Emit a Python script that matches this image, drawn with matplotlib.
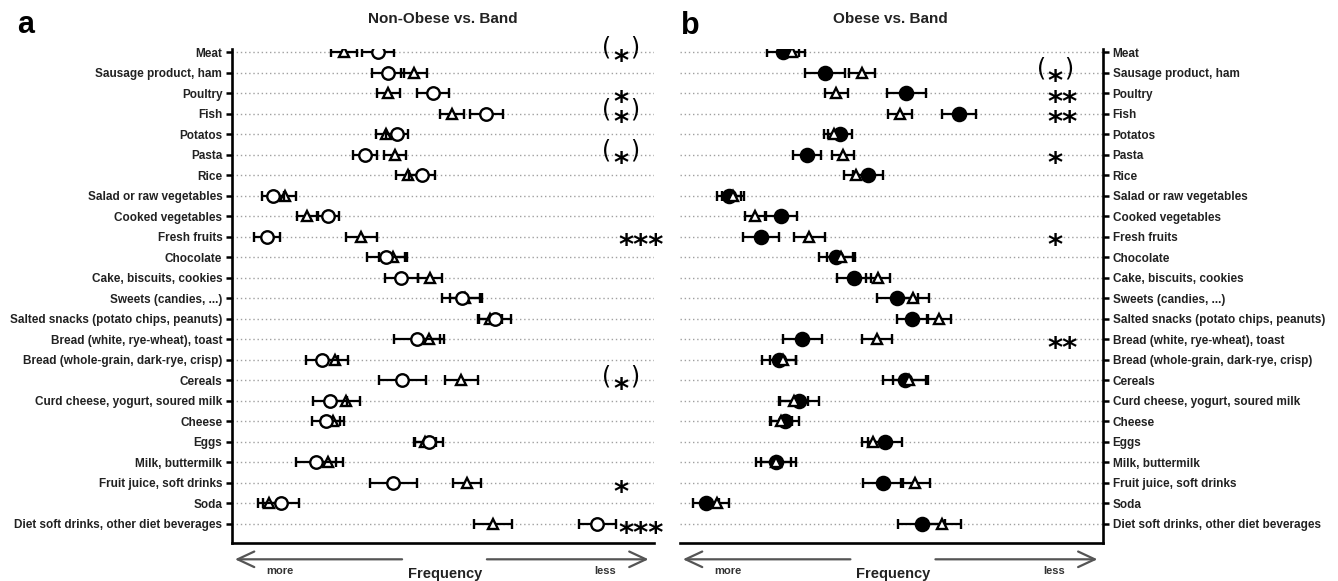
import matplotlib
matplotlib.use('Agg')
import matplotlib.pyplot as plt
import numpy as np

# food items, top to bottom
foods = ['Meat', 'Sausage product, ham', 'Poultry', 'Fish', 'Potatos', 'Pasta', 'Rice',
         'Salad or raw vegetables', 'Cooked vegetables', 'Fresh fruits', 'Chocolate',
         'Cake, biscuits, cookies', 'Sweets (candies, ...)',
         'Salted snacks (potato chips, peanuts)', 'Bread (white, rye-wheat), toast',
         'Bread (whole-grain, dark-rye, crisp)', 'Cereals', 'Curd cheese, yogurt, soured milk',
         'Cheese', 'Eggs', 'Milk, buttermilk', 'Fruit juice, soft drinks', 'Soda',
         'Diet soft drinks, other diet beverages']

# frequency scores (arbitrary scale, 0 = more ... 4.22 = less)
band = [1.12, 1.82, 1.56, 2.20, 1.54, 1.63, 1.76, 0.53, 0.75, 1.29, 1.61, 1.98, 2.33,
        2.58, 1.97, 1.03, 2.29, 1.14, 1.01, 1.93, 0.96, 2.35, 0.37, 2.61]
band_err = [0.13, 0.13, 0.115, 0.12, 0.10, 0.11, 0.12, 0.11, 0.105, 0.155, 0.14, 0.12, 0.15,
            0.12, 0.15, 0.13, 0.165, 0.14, 0.11, 0.11, 0.15, 0.14, 0.115, 0.19]

non_obese = [1.46, 1.56, 2.01, 2.54, 1.65, 1.33, 1.90, 0.41, 0.96, 0.35, 1.54, 1.69, 2.30,
             2.63, 1.85, 0.90, 1.70, 0.98, 0.94, 1.97, 0.84, 1.61, 0.49, 3.65]
non_obese_err = [0.16, 0.16, 0.16, 0.165, 0.11, 0.12, 0.13, 0.11, 0.11, 0.13, 0.19, 0.165, 0.20,
                 0.16, 0.23, 0.16, 0.235, 0.17, 0.14, 0.14, 0.20, 0.235, 0.18, 0.185]

obese = [1.03, 1.45, 2.26, 2.78, 1.60, 1.27, 1.88, 0.49, 1.01, 0.81, 1.56, 1.74, 2.17,
         2.32, 1.22, 0.99, 2.25, 1.19, 1.05, 2.05, 0.96, 2.03, 0.26, 2.41]
obese_err = [0.16, 0.20, 0.19, 0.17, 0.12, 0.14, 0.15, 0.12, 0.16, 0.18, 0.17, 0.17, 0.20,
             0.155, 0.195, 0.17, 0.22, 0.20, 0.14, 0.17, 0.20, 0.20, 0.13, 0.23]

sig_a = ['(*)', '', '*', '(*)', '', '(*)', '', '', '', '***', '', '', '', '', '', '', '(*)',
         '', '', '', '', '*', '', '***']
sig_b = ['', '(*)', '**', '**', '', '*', '', '', '', '*', '', '', '', '', '**', '', '', '',
         '', '', '', '', '', '']

plt.rcParams['font.family'] = ['Liberation Sans', 'DejaVu Sans']

fig = plt.figure(figsize=(13.38, 5.81), dpi=100)
ax_a = fig.add_axes([0.1734, 0.0654, 0.3154, 0.8503])
ax_b = fig.add_axes([0.5082, 0.0654, 0.3161, 0.8503])

y = np.arange(len(foods))
xmax = 4.22


def setup(ax, side):
    ax.set_xlim(0, xmax)
    ax.set_ylim(23.93, -0.15)
    ax.hlines(y, 0, xmax, colors='#a0a0a0', linestyles=(0, (1, 2)), lw=1.0, zorder=0)
    for s in ['top', 'left', 'right', 'bottom']:
        ax.spines[s].set_visible(False)
    ax.spines['bottom'].set_visible(True)
    ax.spines[side].set_visible(True)
    ax.spines['bottom'].set_linewidth(1.9)
    ax.spines[side].set_linewidth(1.9)
    ax.set_xticks([])
    ax.set_yticks(y)
    ax.set_yticklabels(foods, fontsize=8.5, fontweight='bold', color='#222222')
    if side == 'right':
        ax.yaxis.tick_right()
    ax.tick_params(axis='y', length=4, width=1.8, pad=3)
    # frequency arrows below the axis
    arrow = dict(arrowstyle='->,head_length=0.6,head_width=0.28', color='#555555',
                 lw=1.6, mutation_scale=20, shrinkA=0, shrinkB=0)
    ax.annotate('', xy=(0.007, -0.033), xytext=(0.403, -0.033),
                xycoords='axes fraction', arrowprops=arrow, annotation_clip=False)
    ax.annotate('', xy=(0.987, -0.033), xytext=(0.604, -0.033),
                xycoords='axes fraction', arrowprops=arrow, annotation_clip=False)
    ax.text(0.114, -0.056, 'more', transform=ax.transAxes, ha='center', va='center',
            fontsize=8, fontweight='bold', color='#333333')
    ax.text(0.884, -0.057, 'less', transform=ax.transAxes, ha='center', va='center',
            fontsize=8, fontweight='bold', color='#333333')
    ax.text(0.505, -0.062, 'Frequency', transform=ax.transAxes, ha='center', va='center',
            fontsize=10.5, fontweight='bold', color='#222222')


def draw_sig(ax, xs, sig):
    for i, s in enumerate(sig):
        if not s:
            continue
        stars = s.strip('()')
        # three stars start a little further right, clear of the error bar
        dx = 4 if len(stars) == 3 else 0
        ax.annotate(stars, (xs, i), xytext=(dx, -7), textcoords='offset points',
                    ha='left', va='center', fontsize=21, fontweight='bold',
                    family='DejaVu Sans', annotation_clip=False)
        if s.startswith('('):
            ax.annotate('(', (xs, i), xytext=(-1.5, 3), textcoords='offset points',
                        ha='right', va='center', fontsize=17, family='DejaVu Sans',
                        annotation_clip=False)
            ax.annotate(')', (xs, i), xytext=(12, 3), textcoords='offset points',
                        ha='left', va='center', fontsize=17, family='DejaVu Sans',
                        annotation_clip=False)


eb = dict(ecolor='black', elinewidth=1.6, capsize=3.5, capthick=1.6, mec='black', mew=1.7,
          linestyle='none')

# panel a: non-obese vs band
setup(ax_a, 'left')
ax_a.errorbar(band, y, xerr=band_err, marker='^', ms=7.5, mfc='white', zorder=3, **eb)
ax_a.errorbar(non_obese, y, xerr=non_obese_err, marker='o', ms=9, mfc='white', zorder=4, **eb)
draw_sig(ax_a, 3.81, sig_a)

# panel b: obese vs band
setup(ax_b, 'right')
ax_b.errorbar(obese, y, xerr=obese_err, marker='o', ms=9.5, mfc='black', zorder=3, **eb)
ax_b.errorbar(band, y, xerr=band_err, marker='^', ms=7.5, mfc='white', zorder=4, **eb)
draw_sig(ax_b, 3.67, sig_b)

fig.text(443 / 1338, 1 - 19 / 581, 'Non-Obese vs. Band', ha='center', va='center',
         fontsize=11, fontweight='bold', color='#222222')
fig.text(890 / 1338, 1 - 19 / 581, 'Obese vs. Band', ha='center', va='center',
         fontsize=11, fontweight='bold', color='#222222')
fig.text(17 / 1338, 1 - 33 / 581, 'a', ha='left', va='baseline', fontsize=22,
         fontweight='bold')
fig.text(681 / 1338, 1 - 34 / 581, 'b', ha='left', va='baseline', fontsize=22,
         fontweight='bold')

fig.savefig('out.png', dpi=100)
